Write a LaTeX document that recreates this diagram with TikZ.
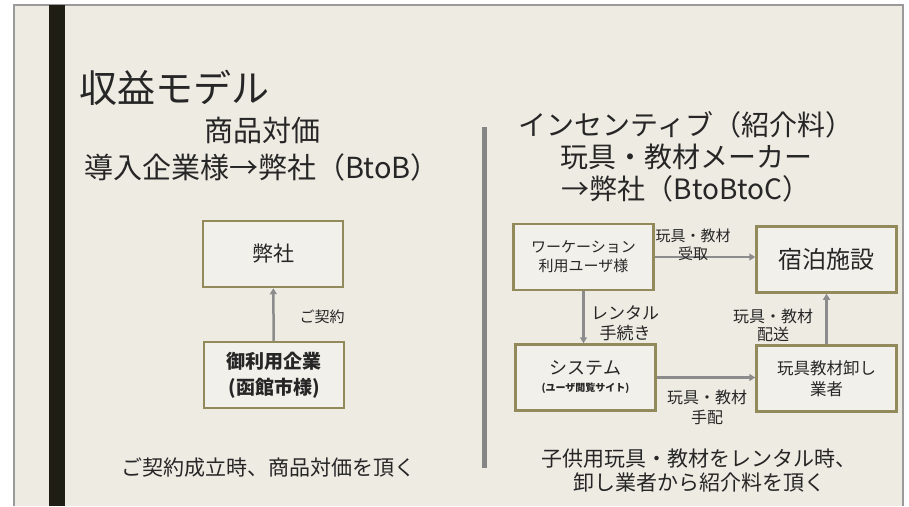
\documentclass[tikz,border=0pt]{standalone}
\usepackage{fontspec}
\setmainfont{Noto Sans CJK JP}
\usetikzlibrary{arrows.meta}
\usepackage{xcolor}
\definecolor{slidebg}{HTML}{EEEBE3}
\definecolor{frameline}{HTML}{9A9A9A}
\definecolor{barblack}{HTML}{1F1E14}
\definecolor{divgray}{HTML}{858585}
\definecolor{boxline}{HTML}{938A5C}
\definecolor{boxfill}{HTML}{F2F0EA}
\definecolor{arrgray}{HTML}{8C8C8C}
\definecolor{ink}{HTML}{262626}

\newcommand{\fs}[2]{\fontsize{#1}{#2}\selectfont}

\begin{document}
\begin{tikzpicture}[x=1pt,y=-1pt,
    box/.style={draw=boxline,line width=2.5pt,fill=boxfill,minimum width=140pt,minimum height=66pt,inner sep=0pt,align=center,text=ink},
    lab/.style={align=center,text=ink,inner sep=1pt},
    arr/.style={-{Triangle[length=6pt,width=7pt]},draw=arrgray,line width=2.5pt}]

    \useasboundingbox (0,0) rectangle (909,506);
    \fill[white] (0,0) rectangle (909,506);
    \fill[slidebg] (14,5) rectangle (903,506);
    \draw[frameline,line width=2pt] (14,506) -- (14,5) -- (903,5) -- (903,506);
    \fill[barblack] (49,5) rectangle (65,506);
    \fill[divgray] (482,127) rectangle (487,468);

    \node[anchor=west,text=ink,font=\fs{38}{40}] (Titl) at (76,88) {収益モデル};

    % left side
    \node[lab,font=\fs{29}{37}] (LeHe) at (262,149) {商品対価\\導入企業様→弊社（BtoB）};

    \node[box,font=\fs{21}{24}] (HeSh) at (273,254) {弊社};
    \node[box,font=\bfseries\fs{19}{26}] (GoKi) at (274,375) {御利用企業\\(函館市様)};

    \draw[arr] (GoKi) to (HeSh);
    \node[lab,font=\fs{15}{18}] (Keiy) at (322,317) {ご契約};

    \node[lab,font=\fs{21}{24}] (LeFo) at (268,468) {ご契約成立時、商品対価を頂く};

    % right side
    \node[lab,font=\fs{28}{32}] (RiHe) at (686,157) {インセンティブ（紹介料）\\玩具・教材メーカー\\→弊社（BtoBtoC）};

    \node[box,font=\fs{15}{19}] (WaUs) at (583.5,257) {ワーケーション\\利用ユーザ様};
    \node[box,font=\fs{24}{28}] (ShSe) at (826.5,259.5) {宿泊施設};
    \node[box,font=\fs{18}{17}] (SiSu) at (585.5,377.5) {システム\\{\bfseries\fs{10}{12}(ユーザ閲覧サイト)}};
    \node[box,font=\fs{16.5}{21}] (OrGy) at (826.5,378.5) {玩具教材卸し\\業者};

    \draw[arr] (WaUs) to (WaUs -| ShSe.west);
    \draw[arr] (WaUs) to (WaUs |- SiSu.north);
    \draw[arr] (SiSu) to (SiSu -| OrGy.west);
    \draw[arr] (OrGy) to (OrGy |- ShSe.south);

    \node[lab,font=\fs{15}{18}] (UkTo) at (693,245) {玩具・教材\\受取};
    \node[lab,font=\fs{17}{20}] (ReTe) at (625,323) {レンタル\\手続き};
    \node[lab,font=\fs{16}{20}] (TeHa) at (707,407) {玩具・教材\\手配};
    \node[lab,font=\fs{16}{18}] (HaSo) at (773,325) {玩具・教材\\配送};

    \node[lab,font=\fs{21}{24}] (RiFo) at (699,471) {子供用玩具・教材をレンタル時、\\卸し業者から紹介料を頂く};

\end{tikzpicture}
\end{document}
